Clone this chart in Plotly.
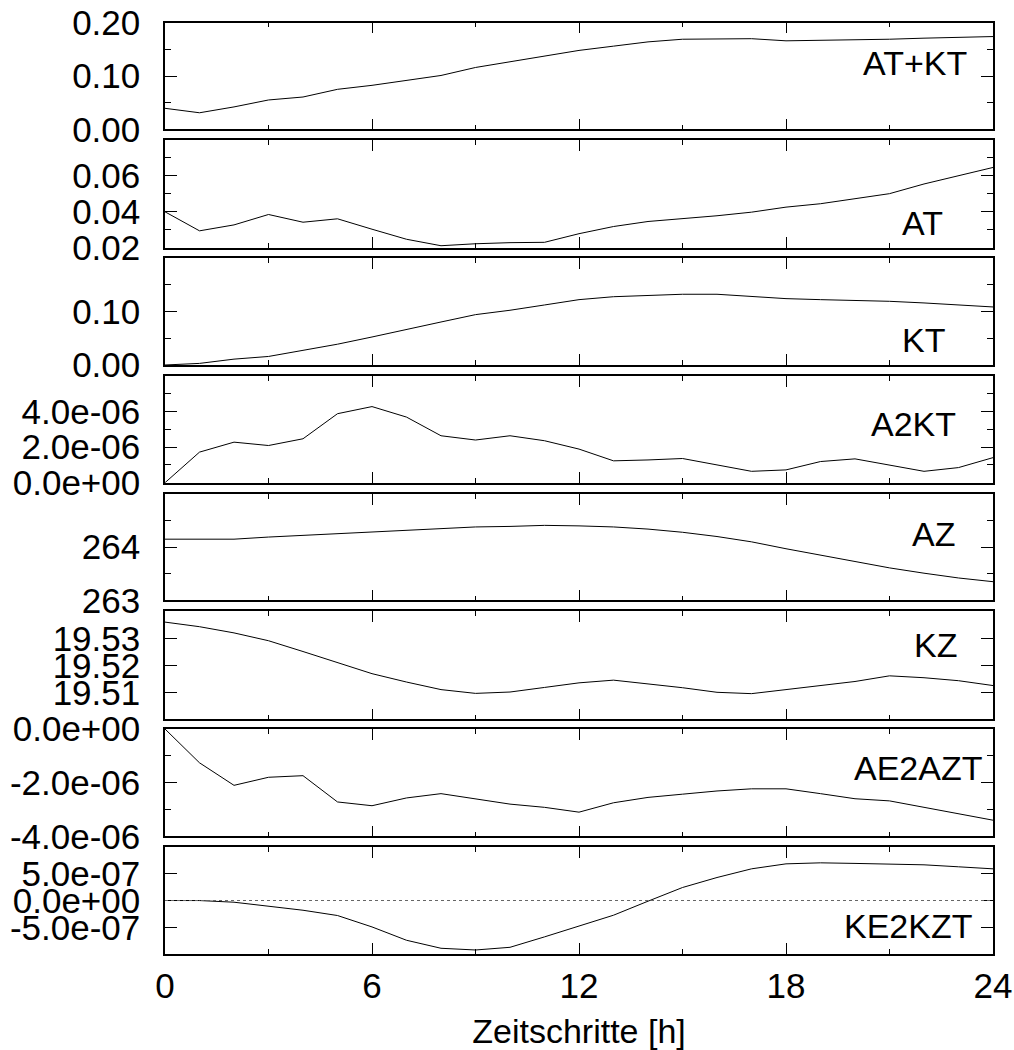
import plotly.graph_objects as go

# ---------------- data ----------------
hours = list(range(25))

at_kt = [0.0394, 0.031, 0.042, 0.055, 0.0606, 0.075, 0.0825, 0.092, 0.101, 0.116,
         0.127, 0.137, 0.148, 0.156, 0.164, 0.169, 0.169, 0.170, 0.166, 0.167,
         0.1675, 0.169, 0.171, 0.1725, 0.174]
at = [0.040, 0.0294, 0.0327, 0.0385, 0.0342, 0.0361, 0.0303, 0.0247, 0.0211, 0.0222,
      0.0228, 0.0230, 0.0278, 0.0318, 0.0346, 0.0360, 0.0378, 0.0398, 0.0426, 0.0445,
      0.0471, 0.0501, 0.0555, 0.0602, 0.0647]
kt = [0.0, 0.003, 0.011, 0.016, 0.0275, 0.039, 0.0525, 0.067, 0.0806, 0.0944,
      0.1026, 0.1125, 0.1225, 0.128, 0.131, 0.1326, 0.1326, 0.1289, 0.1244, 0.1225,
      0.1213, 0.1194, 0.1163, 0.112, 0.1088]
a2kt = [0.0, 1.72e-6, 2.28e-6, 2.09e-6, 2.47e-6, 3.88e-6, 4.28e-6, 3.69e-6, 2.64e-6, 2.40e-6,
        2.64e-6, 2.36e-6, 1.89e-6, 1.23e-6, 1.28e-6, 1.36e-6, 1.00e-6, 0.64e-6, 0.72e-6, 1.19e-6,
        1.34e-6, 1.00e-6, 0.64e-6, 0.85e-6, 1.41e-6]
az = [264.15, 264.15, 264.15, 264.19, 264.22, 264.26, 264.29, 264.32, 264.345, 264.38,
      264.39, 264.41, 264.40, 264.38, 264.34, 264.28, 264.20, 264.10, 263.97, 263.85,
      263.72, 263.61, 263.51, 263.42, 263.35]
kz = [19.536, 19.5343, 19.532, 19.5291, 19.5251, 19.5209, 19.5169, 19.5138, 19.5110, 19.5096,
      19.5101, 19.5118, 19.5135, 19.5145, 19.5131, 19.5117, 19.5100, 19.5095, 19.5110, 19.5126,
      19.5140, 19.5161, 19.5154, 19.5143, 19.5125]
ae2azt = [0.0, -1.26e-6, -2.10e-6, -1.80e-6, -1.74e-6, -2.72e-6, -2.86e-6, -2.57e-6, -2.41e-6, -2.60e-6,
          -2.80e-6, -2.92e-6, -3.10e-6, -2.75e-6, -2.55e-6, -2.43e-6, -2.31e-6, -2.23e-6, -2.23e-6, -2.41e-6,
          -2.60e-6, -2.68e-6, -2.92e-6, -3.18e-6, -3.40e-6]
ke2kzt = [0.0, -0.01e-7, -0.32e-7, -1.07e-7, -1.82e-7, -2.81e-7, -4.94e-7, -7.43e-7, -8.93e-7, -9.25e-7,
          -8.75e-7, -6.8e-7, -4.76e-7, -2.75e-7, -0.13e-7, 2.43e-7, 4.3e-7, 5.92e-7, 6.85e-7, 7.04e-7,
          6.93e-7, 6.8e-7, 6.67e-7, 6.3e-7, 5.92e-7]

series_names = ["AT+KT", "AT", "KT", "A2KT", "AZ", "KZ", "AE2AZT", "KE2KZT"]
series_values = [at_kt, at, kt, a2kt, az, kz, ae2azt, ke2kzt]

y_ranges = [[0, 0.2], [0.02, 0.08], [0, 0.2], [0, 6e-6], [263, 265],
            [19.50, 19.54], [-4e-6, 0], [-1e-6, 1e-6]]
y_tickvals = [[0, 0.1, 0.2], [0.02, 0.04, 0.06], [0, 0.1], [0, 2e-6, 4e-6], [263, 264],
              [19.51, 19.52, 19.53], [-4e-6, -2e-6, 0], [-5e-7, 0, 5e-7]]
y_ticktext = [["0.00", "0.10", "0.20"], ["0.02", "0.04", "0.06"], ["0.00", "0.10"],
              ["0.0e+00", "2.0e-06", "4.0e-06"], ["263", "264"],
              ["19.51", "19.52", "19.53"], ["-4.0e-06", "-2.0e-06", "0.0e+00"],
              ["-5.0e-07", "0.0e+00", "5.0e-07"]]
y_minorvals = [[0.05, 0.15], [0.03, 0.05, 0.07], [0.05, 0.15], [1e-6, 3e-6, 5e-6], [263.5, 264.5],
               [], [-3e-6, -1e-6], []]

x_tickvals = [0, 6, 12, 18, 24]
x_ticktext = ["0", "6", "12", "18", "24"]
x_minorvals = [3, 9, 15, 21]
x_title = "Zeitschritte [h]"

# ---------------- layout geometry (pixels) ----------------
W, H = 1014, 1050
L, R = 165, 993
T, B = 22, 954
panel_tops = [22.7, 140, 258.3, 376, 494, 611.3, 729, 847]
panel_bots = [129.3, 247.7, 365, 482.7, 600.3, 719.3, 836.3, 954.3]
label_pos = [(915, 63), (922.5, 222.5), (923, 340), (913.5, 423.5),
             (933, 534), (935, 645), (918, 767.5), (908, 926)]

FONT = "Liberation Sans, Arial, sans-serif"
FS = 34
TFS = 35


def fy(py):
    return min(1.0, max(0.0, (B - py) / (B - T)))


def fx(px):
    return (px - L) / (R - L)


fig = go.Figure()
layout = dict(
    width=W, height=H,
    margin=dict(l=L, r=W - R, t=T, b=H - B, pad=0, autoexpand=False),
    paper_bgcolor="white", plot_bgcolor="white",
    showlegend=False,
    font=dict(family=FONT, size=FS, color="black"),
)

n = len(series_names)
for i in range(n):
    k = i + 1
    xa = "x" if k == 1 else f"x{k}"
    ya = "y" if k == 1 else f"y{k}"
    fig.add_trace(go.Scatter(x=hours, y=series_values[i], mode="lines",
                             line=dict(color="black", width=1),
                             xaxis=xa, yaxis=ya, name=series_names[i]))
    last = (i == n - 1)
    xaxis = dict(
        domain=[0, 1], anchor=ya, range=[0, 24], automargin=False,
        tickvals=x_tickvals, ticktext=x_ticktext,
        showticklabels=last,
        ticks="inside", ticklen=11, tickwidth=1, tickcolor="black",
        minor=dict(tickvals=x_minorvals, ticks="inside", ticklen=5,
                   tickwidth=1, tickcolor="black", showgrid=False),
        showline=True, linecolor="black", linewidth=1.5, mirror="ticks",
        showgrid=False, zeroline=False,
        tickfont=dict(family=FONT, size=TFS, color="black"),
    )
    if last:
        xaxis["title"] = dict(text=x_title, standoff=24,
                              font=dict(family=FONT, size=FS, color="black"))
        xaxis["ticklabelstandoff"] = 0
    yaxis = dict(
        domain=[fy(panel_bots[i]), fy(panel_tops[i])], anchor=xa,
        range=y_ranges[i], automargin=False,
        tickvals=y_tickvals[i], ticktext=y_ticktext[i],
        ticks="inside", ticklen=12, tickwidth=1, tickcolor="black",
        showline=True, linecolor="black", linewidth=1.5, mirror="ticks",
        showgrid=False, zeroline=False,
        ticklabelstandoff=16,
        tickfont=dict(family=FONT, size=TFS, color="black"),
    )
    if y_minorvals[i]:
        yaxis["minor"] = dict(tickvals=y_minorvals[i], ticks="inside", ticklen=6,
                              tickwidth=1, tickcolor="black", showgrid=False)
    layout["xaxis" if k == 1 else f"xaxis{k}"] = xaxis
    layout["yaxis" if k == 1 else f"yaxis{k}"] = yaxis

fig.update_layout(**layout)

# dotted zero line in the last panel
fig.add_shape(type="line", xref="x8 domain", yref="y8", x0=0, x1=1, y0=0, y1=0,
              line=dict(color="#666666", width=1, dash="dot"))

# panel labels
for i, name in enumerate(series_names):
    px, py = label_pos[i]
    fig.add_annotation(text=name, xref="paper", yref="paper",
                       x=fx(px), y=fy(py), xanchor="center", yanchor="middle",
                       showarrow=False,
                       font=dict(family=FONT, size=FS, color="black"))

fig.write_html("out.html")
